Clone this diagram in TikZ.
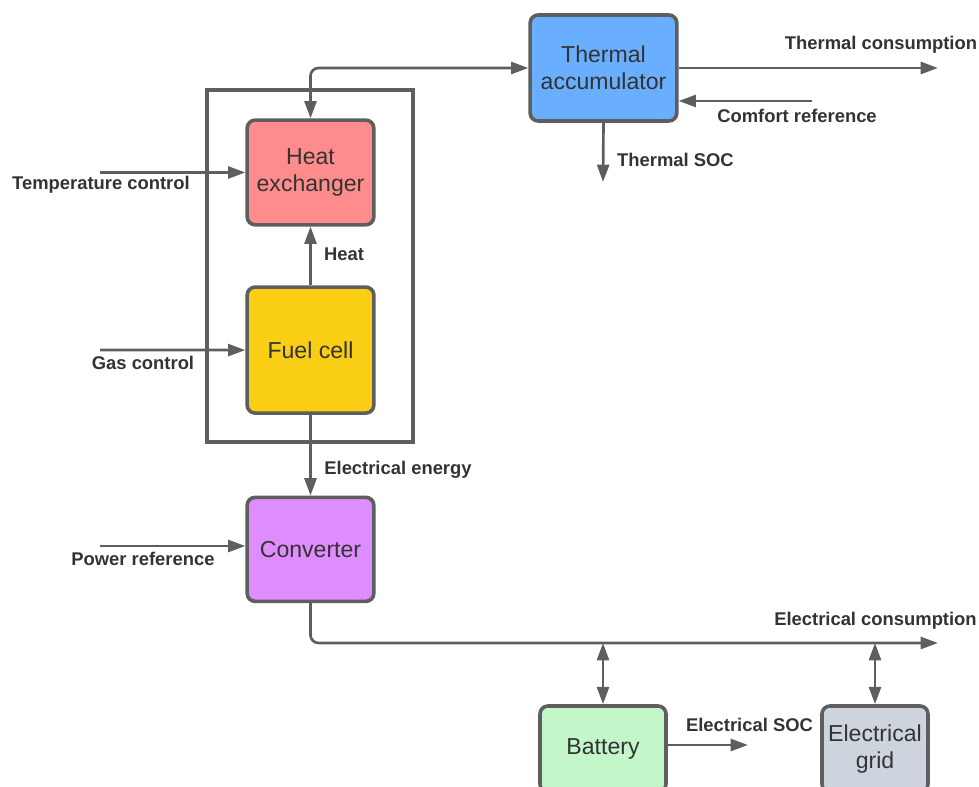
\documentclass[tikz,border=0pt]{standalone}
\usepackage{fontspec}
\setmainfont{Liberation Sans}
\usetikzlibrary{arrows.meta,positioning}
\definecolor{linegray}{HTML}{5E5E5E}
\definecolor{textgray}{HTML}{333333}
\definecolor{thermblue}{HTML}{6AAEFF}
\definecolor{heatred}{HTML}{FF8C8C}
\definecolor{fuelyellow}{HTML}{F9CE14}
\definecolor{convpurple}{HTML}{DF8CFF}
\definecolor{battgreen}{HTML}{C3F6C8}
\definecolor{gridgray}{HTML}{CED4DE}

\begin{document}
\begin{tikzpicture}[x=0.75pt,y=-0.75pt,>={Triangle[length=13pt,width=9pt]},
  block/.style={draw=linegray,line width=2.7pt,rounded corners=6pt,align=center,
    text=textgray,font=\fontsize{17.3}{20.5}\selectfont},
  lbl/.style={text=textgray,font=\bfseries\fontsize{13.8}{16}\selectfont,inner sep=0pt},
  flow/.style={draw=linegray,line width=2pt}]
\useasboundingbox (0,0) rectangle (979,787);
\clip (0,0) rectangle (979,787);

% blocks
\node[block,fill=thermblue,minimum width=110pt,minimum height=79.5pt] (ta) at (603.5,68) {Thermal\\accumulator};
\node[block,fill=heatred,minimum width=95pt,minimum height=78.5pt] (hx) at (310.5,172.5) {Heat\\exchanger};
\node[block,fill=fuelyellow,minimum width=95pt,minimum height=94.5pt,below=44pt of hx] (fc) {Fuel cell};
\node[block,fill=convpurple,minimum width=95pt,minimum height=78pt,below=60.5pt of fc] (conv) {Converter};
\node[block,fill=battgreen,minimum width=94.5pt,minimum height=64.5pt] (bat) at (603,749) {Battery};
\node[block,fill=gridgray,minimum width=79.5pt,minimum height=64.5pt] (grid) at (875,749) {Electrical\\grid};

% frame round heat exchanger and fuel cell
\draw[linegray,line width=2.5pt] (207,90) rectangle (413,442);

% free ends
\coordinate (thc) at (938,68);
\coordinate (cref) at (812,101);
\coordinate (tsoc) at (603,182);
\coordinate (tctl) at (100,172.5);
\coordinate (gctl) at (100,350);
\coordinate (pref) at (100,546);
\coordinate (ecns) at (938,643);
\coordinate (esoc) at (748,745);

% connectors
\draw[flow,<->,rounded corners=6pt] (hx.north) |- (ta.west);
\draw[flow,->] (ta.east |- thc) -- (thc);
\draw[flow,->] (cref) -- (cref -| ta.east);
\draw[flow,->] (ta.south) -- (tsoc);
\draw[flow,->] (tctl) -- (hx.west);
\draw[flow,->] (fc.north) -- (hx.south);
\draw[flow,->] (gctl) -- (fc.west);
\draw[flow,->] (fc.south) -- (conv.north);
\draw[flow,->] (pref) -- (pref -| conv.west);
\draw[flow,->,rounded corners=6pt] (conv.south) |- (ecns);
\draw[flow,<->] (bat.north) -- (bat.north |- ecns);
\draw[flow,<->] (grid.north) -- (grid.north |- ecns);
\draw[flow,->] (esoc -| bat.east) -- (esoc);

% labels
\node[lbl] (lthc) at (881,45) {Thermal consumption};
\node[lbl] (lcref) at (797,116) {Comfort reference};
\node[lbl] (ltsoc) at (675.5,160) {Thermal SOC};
\node[lbl] (ltctl) at (101,185) {Temperature control};
\node[lbl] (lheat) at (344,254) {Heat};
\node[lbl] (lgctl) at (143,363) {Gas control};
\node[lbl] (lelen) at (398,470) {Electrical energy};
\node[lbl] (lpref) at (143,559) {Power reference};
\node[lbl] (lecns) at (875.5,621) {Electrical consumption};
\node[lbl] (lesoc) at (749.5,725) {Electrical SOC};
\end{tikzpicture}
\end{document}
